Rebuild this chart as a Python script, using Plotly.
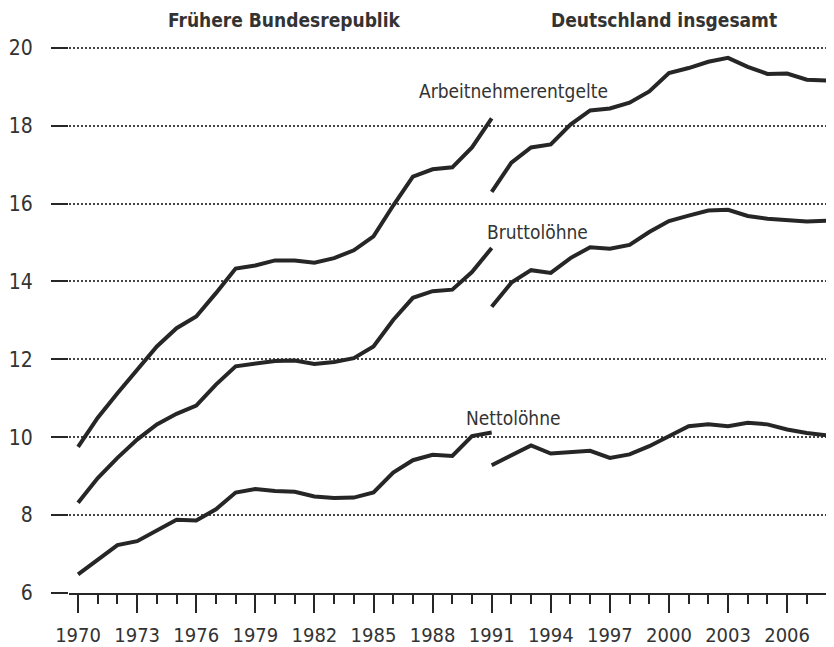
import plotly.graph_objects as go

years_west = list(range(1970, 1992))
years_de = list(range(1991, 2009))

arbeit_west = [9.75, 10.5, 11.13, 11.73, 12.33, 12.8, 13.1, 13.7, 14.33, 14.41, 14.54,
               14.54, 14.48, 14.6, 14.8, 15.16, 15.95, 16.69, 16.88, 16.93, 17.44, 18.19]
arbeit_de = [16.3, 17.05, 17.44, 17.52, 18.03, 18.39, 18.44, 18.59, 18.88, 19.35, 19.48,
             19.64, 19.74, 19.51, 19.33, 19.34, 19.18, 19.16]

brutto_west = [8.32, 8.95, 9.47, 9.94, 10.33, 10.6, 10.81, 11.35, 11.82, 11.88, 11.96,
               11.97, 11.88, 11.93, 12.03, 12.33, 13.01, 13.58, 13.75, 13.79, 14.24, 14.86]
brutto_de = [13.35, 13.97, 14.29, 14.22, 14.6, 14.88, 14.84, 14.94, 15.27, 15.55, 15.69,
             15.82, 15.84, 15.68, 15.61, 15.58, 15.54, 15.56]

netto_west = [6.48, 6.86, 7.23, 7.33, 7.6, 7.88, 7.86, 8.15, 8.58, 8.67, 8.62,
              8.6, 8.48, 8.44, 8.45, 8.58, 9.09, 9.41, 9.55, 9.52, 10.03, 10.12]
netto_de = [9.28, 9.53, 9.79, 9.58, 9.62, 9.65, 9.47, 9.56, 9.77, 10.03, 10.28,
            10.33, 10.28, 10.37, 10.33, 10.2, 10.11, 10.05]

y_ticks = [6, 8, 10, 12, 14, 16, 18, 20]
x_tick_years = list(range(1970, 2007, 3))

series_labels = ["Arbeitnehmerentgelte", "Bruttolöhne", "Nettolöhne"]
region_titles = ["Frühere Bundesrepublik", "Deutschland insgesamt"]

FONT = "DejaVu Sans Condensed, Liberation Sans Narrow, sans-serif"
LINE = "#262626"
TEXT = "#333333"

fig = go.Figure()
for xs, ys in [(years_west, arbeit_west), (years_de, arbeit_de),
               (years_west, brutto_west), (years_de, brutto_de),
               (years_west, netto_west), (years_de, netto_de)]:
    fig.add_trace(go.Scatter(x=xs, y=ys, mode="lines",
                             line=dict(color=LINE, width=4),
                             showlegend=False, hoverinfo="skip"))

# region titles (above the plot area, paper-referenced in y)
for text, xv in [(region_titles[0], 1980.46), (region_titles[1], 1999.75)]:
    fig.add_annotation(text=f"<b>{text}</b>", x=xv, y=1.036, xref="x", yref="paper",
                       showarrow=False, xanchor="center", yanchor="middle",
                       font=dict(family=FONT, size=19, color=TEXT))

for text, xv, yv in [(series_labels[0], 1992.1, 18.9),
                     (series_labels[1], 1993.32, 15.27),
                     (series_labels[2], 1992.13, 10.5)]:
    fig.add_annotation(text=text, x=xv, y=yv, xref="x", yref="y",
                       showarrow=False, xanchor="center", yanchor="middle",
                       font=dict(family=FONT, size=19, color=TEXT))

fig.update_layout(
    width=826, height=639,
    margin=dict(l=61, r=0, t=32, b=51),
    paper_bgcolor="white", plot_bgcolor="white",
    font=dict(family=FONT, size=19, color=TEXT),
    xaxis=dict(range=[1969.54, 2008.38], tickmode="array", tickvals=x_tick_years,
               ticktext=[str(v) for v in x_tick_years],
               ticks="outside", ticklen=18, tickwidth=2, tickcolor=LINE,
               minor=dict(dtick=1, tick0=1970, ticks="outside", ticklen=9,
                          tickwidth=1.5, tickcolor=LINE, showgrid=False),
               showgrid=False, zeroline=False, showline=True, linecolor=LINE,
               linewidth=2, ticklabelstandoff=5, tickfont=dict(size=20, color=TEXT)),
    yaxis=dict(range=[6, 20.2], tickmode="array", tickvals=y_ticks,
               ticktext=[str(v) for v in y_ticks],
               ticks="outside", ticklen=17, tickwidth=2, tickcolor=LINE,
               showgrid=True, gridcolor="#444444", gridwidth=2, griddash="2px,2px",
               zeroline=False, showline=False, ticklabelstandoff=14,
               tickfont=dict(size=21, color=TEXT)),
)

fig.write_html("out.html")
